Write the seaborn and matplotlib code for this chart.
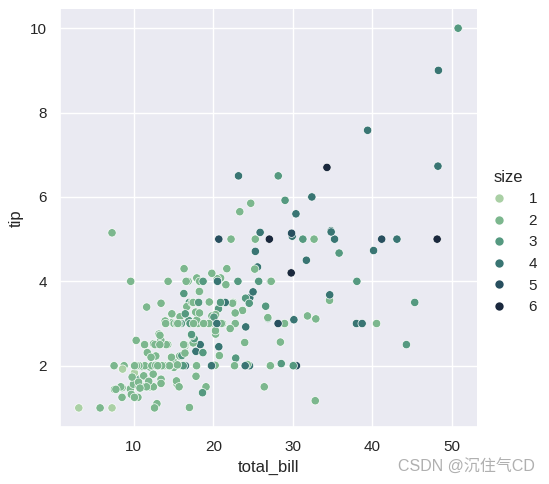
import matplotlib
matplotlib.use("Agg")
import matplotlib.pyplot as plt
import seaborn as sns
import pandas as pd

total_bill = [16.99, 10.34, 21.01, 23.68, 24.59, 25.29, 8.77, 26.88, 15.04, 14.78,
              10.27, 35.26, 15.42, 18.43, 14.83, 21.58, 10.33, 16.29, 16.97, 20.65,
              17.92, 20.29, 15.77, 39.42, 19.82, 17.81, 13.37, 12.69, 21.70, 19.65,
              9.55, 18.35, 15.06, 20.69, 17.78, 24.06, 16.31, 16.93, 18.69, 31.27,
              16.04, 17.46, 13.94, 9.68, 30.40, 18.29, 22.23, 32.40, 28.55, 18.04,
              12.54, 10.29, 34.81, 9.94, 25.56, 19.49, 38.01, 26.41, 11.24, 48.27,
              20.29, 13.81, 11.02, 18.29, 17.59, 20.08, 16.45, 3.07, 20.23, 15.01,
              12.02, 17.07, 26.86, 25.28, 14.73, 10.51, 17.92, 27.20, 22.76, 17.29,
              19.44, 16.66, 10.07, 32.68, 15.98, 34.83, 13.03, 18.28, 24.71, 21.16,
              28.97, 22.49, 5.75, 16.32, 22.75, 40.17, 27.28, 12.03, 21.01, 12.46,
              11.35, 15.38, 44.30, 22.42, 20.92, 15.36, 20.49, 25.21, 18.24, 14.31,
              14.00, 7.25, 38.07, 23.95, 25.71, 17.31, 29.93, 10.65, 12.43, 24.08,
              11.69, 13.42, 14.26, 15.95, 12.48, 29.80, 8.52, 14.52, 11.38, 22.82,
              19.08, 20.27, 11.17, 12.26, 18.26, 8.51, 10.33, 14.15, 16.00, 13.16,
              17.47, 34.30, 41.19, 27.05, 16.43, 8.35, 18.64, 11.87, 9.78, 7.51,
              14.07, 13.13, 17.26, 24.55, 19.77, 29.85, 48.17, 25.00, 13.39, 16.49,
              21.50, 12.66, 16.21, 13.81, 17.51, 24.52, 20.76, 31.71, 10.59, 10.63,
              50.81, 15.81, 7.25, 31.85, 16.82, 32.90, 17.89, 14.48, 9.60, 34.63,
              34.65, 23.33, 45.35, 23.17, 40.55, 20.69, 20.90, 30.46, 18.15, 23.10,
              15.69, 19.81, 28.44, 15.48, 16.58, 7.56, 10.34, 43.11, 13.00, 13.51,
              18.71, 12.74, 13.00, 16.40, 20.53, 16.47, 26.59, 38.73, 24.27, 12.76,
              30.06, 25.89, 48.33, 13.27, 28.17, 12.90, 28.15, 11.59, 7.74, 30.14,
              12.16, 13.42, 8.58, 15.98, 13.42, 16.27, 10.09, 20.45, 13.28, 22.12,
              24.01, 15.69, 11.61, 10.77, 15.53, 10.07, 12.60, 32.83, 35.83, 29.03,
              27.18, 22.67, 17.82, 18.78]

tip = [1.01, 1.66, 3.50, 3.31, 3.61, 4.71, 2.00, 3.12, 1.96, 3.23,
       1.71, 5.00, 1.57, 3.00, 3.02, 3.92, 1.67, 3.71, 3.50, 3.35,
       4.08, 2.75, 2.23, 7.58, 3.18, 2.34, 2.00, 2.00, 4.30, 3.00,
       1.45, 2.50, 3.00, 2.45, 3.27, 3.60, 2.00, 3.07, 2.31, 5.00,
       2.24, 2.54, 3.06, 1.32, 5.60, 3.00, 5.00, 6.00, 2.05, 3.00,
       2.50, 2.60, 5.20, 1.56, 4.34, 3.51, 3.00, 1.50, 1.76, 6.73,
       3.21, 2.00, 1.98, 3.76, 2.64, 3.15, 2.47, 1.00, 2.01, 2.09,
       1.97, 3.00, 3.14, 5.00, 2.20, 1.25, 3.08, 4.00, 3.00, 2.71,
       3.00, 3.40, 1.83, 5.00, 2.03, 5.17, 2.00, 4.00, 5.85, 3.00,
       3.00, 3.50, 1.00, 4.30, 3.25, 4.73, 4.00, 1.50, 3.00, 1.50,
       2.50, 3.00, 2.50, 3.48, 4.08, 1.64, 4.06, 4.29, 3.76, 4.00,
       3.00, 1.00, 4.00, 2.55, 4.00, 3.50, 5.07, 1.50, 1.80, 2.92,
       2.31, 1.68, 2.50, 2.00, 2.52, 4.20, 1.48, 2.00, 2.00, 2.18,
       1.50, 2.83, 1.50, 2.00, 3.25, 1.25, 2.00, 2.00, 2.00, 2.75,
       3.50, 6.70, 5.00, 5.00, 2.30, 1.50, 1.36, 1.63, 1.73, 2.00,
       2.50, 2.00, 2.74, 2.00, 2.00, 5.14, 5.00, 3.75, 2.61, 2.00,
       3.50, 2.50, 2.00, 2.00, 3.00, 3.48, 2.24, 4.50, 1.61, 2.00,
       10.00, 3.16, 5.15, 3.18, 4.00, 3.11, 2.00, 2.00, 4.00, 3.55,
       3.68, 5.65, 3.50, 6.50, 3.00, 5.00, 3.50, 2.00, 3.50, 4.00,
       1.50, 4.19, 2.56, 2.02, 4.00, 1.44, 2.00, 5.00, 2.00, 2.00,
       4.00, 2.01, 2.00, 2.50, 4.00, 3.23, 3.41, 3.00, 2.03, 2.23,
       2.00, 5.16, 9.00, 2.50, 6.50, 1.10, 3.00, 1.50, 1.44, 3.09,
       2.20, 3.48, 1.92, 3.00, 1.58, 2.50, 2.00, 3.00, 2.72, 2.88,
       2.00, 3.00, 3.39, 1.47, 3.00, 1.25, 1.00, 1.17, 4.67, 5.92,
       2.00, 2.00, 1.75, 3.00]

size = [2, 3, 3, 2, 4, 4, 2, 4, 2, 2,
        2, 4, 2, 4, 2, 2, 3, 3, 3, 3,
        2, 2, 2, 4, 2, 4, 2, 2, 2, 2,
        2, 4, 2, 4, 2, 3, 3, 3, 3, 3,
        3, 2, 2, 2, 4, 2, 2, 4, 3, 2,
        2, 2, 4, 2, 4, 2, 4, 2, 2, 4,
        2, 2, 2, 4, 3, 3, 2, 1, 2, 2,
        2, 3, 2, 2, 2, 2, 2, 4, 2, 2,
        2, 2, 1, 2, 2, 4, 2, 2, 2, 2,
        2, 2, 2, 2, 2, 4, 2, 2, 2, 2,
        2, 2, 3, 2, 2, 2, 2, 2, 2, 2,
        2, 1, 3, 2, 3, 2, 4, 2, 2, 4,
        2, 2, 2, 2, 2, 6, 2, 2, 2, 3,
        2, 2, 2, 2, 2, 2, 2, 2, 2, 2,
        2, 6, 5, 6, 2, 2, 3, 2, 2, 2,
        2, 2, 3, 4, 4, 5, 6, 4, 2, 4,
        4, 2, 3, 2, 2, 3, 2, 4, 2, 2,
        3, 2, 2, 2, 2, 2, 2, 2, 2, 2,
        4, 2, 3, 4, 2, 5, 3, 5, 3, 3,
        2, 2, 2, 2, 2, 2, 2, 4, 2, 2,
        3, 2, 2, 2, 4, 3, 3, 4, 2, 2,
        3, 4, 4, 2, 3, 2, 5, 2, 2, 4,
        2, 2, 1, 3, 2, 2, 2, 4, 2, 2,
        4, 3, 2, 2, 2, 2, 2, 2, 3, 3,
        2, 2, 2, 2]

tips = pd.DataFrame({"total_bill": total_bill, "tip": tip, "size": size})

sns.set_theme()
plt.rcParams["font.family"] = ["Liberation Sans", "Noto Sans CJK SC"]

g = sns.relplot(data=tips, x="total_bill", y="tip", hue="size",
                palette="ch:r=-.5,l=.75")
g.figure.set_size_inches(5.49, 4.84)
g.figure.subplots_adjust(left=0.109, right=0.869, top=0.981, bottom=0.118)
sns.move_legend(g, "center right", bbox_to_anchor=(1.003, 0.5),
                labelspacing=0.5, handlelength=0.8, handletextpad=1.5,
                frameon=False, title="size", title_fontsize=12)
g._legend._legend_box.align = "left"

g.figure.text(0.975, 0.037, "CSDN @沉住气CD", ha="right", va="center",
              fontsize=11.5, color="#b0b0b0",
              family=["Liberation Sans", "Noto Sans CJK SC"])

g.figure.savefig("out.png", dpi=100)
